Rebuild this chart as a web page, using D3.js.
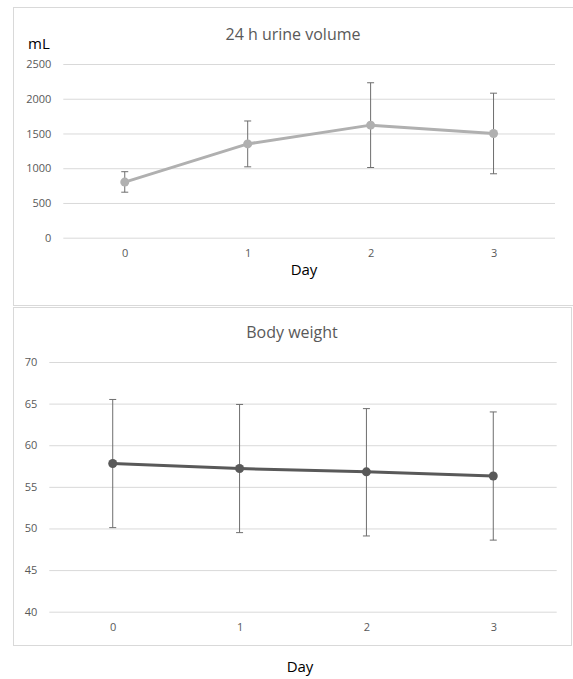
<!DOCTYPE html>
<html><head><meta charset="utf-8">
<script src="https://cdn.jsdelivr.net/npm/d3@7"></script>
<style>body{margin:0;background:#fff}svg{display:block;font-family:"Open Sans",sans-serif}</style>
</head><body>
<svg id="c" width="573" height="679"></svg>
<script>
const days = ["0","1","2","3"];
const urineMean = [800, 1350, 1620, 1500];
const urineUpper = [950, 1680, 2230, 2080];
const urineLower = [655, 1020, 1010, 920];
const urineTicks = [0, 500, 1000, 1500, 2000, 2500];
const weightMean = [57.8, 57.2, 56.8, 56.3];
const weightUpper = [65.5, 64.9, 64.4, 64.0];
const weightLower = [50.1, 49.5, 49.1, 48.6];
const weightTicks = [40, 45, 50, 55, 60, 65, 70];

const svg = d3.select("#c");

function panel(opt){
  const g = svg.append("g");
  g.append("rect").attr("x",opt.box[0]+0.5).attr("y",opt.box[1]+0.5)
    .attr("width",opt.box[2]).attr("height",opt.box[3])
    .attr("fill","#fff").attr("stroke","#d9d9d9").attr("stroke-width",1);
  const x = d3.scalePoint().domain(days).range([opt.x0,opt.x1]).padding(0.5);
  const y = d3.scaleLinear().domain(opt.domain).range([opt.y0,opt.y1]);
  const ya = d3.axisLeft(y).tickValues(opt.ticks).tickFormat(d3.format("d"))
    .tickSize(-(opt.x1-opt.x0)).tickPadding(12);
  const yg = g.append("g").attr("transform",`translate(${opt.x0},0)`).call(ya);
  yg.select(".domain").remove();
  yg.selectAll(".tick line").attr("stroke","#d9d9d9").attr("stroke-width",1);
  yg.selectAll(".tick text").attr("fill","#595959").attr("font-size",11).attr("font-family","Open Sans");
  const xa = d3.axisBottom(x).tickSize(0).tickPadding(12);
  const xg = g.append("g").attr("transform",`translate(0,${opt.y0})`).call(xa);
  xg.select(".domain").remove();
  xg.selectAll(".tick text").attr("fill","#595959").attr("font-size",11).attr("font-family","Open Sans");
  const eb = g.append("g").attr("stroke",opt.errColor).attr("stroke-width",1);
  days.forEach((d,i)=>{
    const cx = x(d);
    eb.append("line").attr("x1",cx).attr("x2",cx).attr("y1",y(opt.upper[i])).attr("y2",y(opt.lower[i]));
    eb.append("line").attr("x1",cx-3.5).attr("x2",cx+3.5).attr("y1",y(opt.upper[i])).attr("y2",y(opt.upper[i]));
    eb.append("line").attr("x1",cx-3.5).attr("x2",cx+3.5).attr("y1",y(opt.lower[i])).attr("y2",y(opt.lower[i]));
  });
  const line = d3.line().x((v,i)=>x(days[i])).y(v=>y(v));
  g.append("path").datum(opt.mean).attr("d",line).attr("fill","none")
    .attr("stroke",opt.color).attr("stroke-width",3).attr("stroke-linejoin","round");
  g.selectAll(null).data(opt.mean).enter().append("circle")
    .attr("cx",(v,i)=>x(days[i])).attr("cy",v=>y(v)).attr("r",4.5).attr("fill",opt.color);
  g.append("text").attr("x",opt.titleX).attr("y",opt.titleY).attr("text-anchor","middle")
    .attr("fill","#595959").attr("font-size",16).text(opt.title);
  return g;
}

const topPanel = panel({box:[13,7,570,298], x0:63.3, x1:555, y0:237.7, y1:64, domain:[0,2500],
  ticks:urineTicks, mean:urineMean, upper:urineUpper, lower:urineLower,
  color:"#b0b0b0", errColor:"#6e6e6e", title:"24 h urine volume", titleX:293, titleY:40});
topPanel.append("text").attr("x",28).attr("y",49).attr("font-size",15).attr("fill","#000").text("mL");
topPanel.append("text").attr("x",304).attr("y",275).attr("text-anchor","middle").attr("font-size",15).attr("fill","#000").text("Day");

const botPanel = panel({box:[13,307,558,338], x0:49.3, x1:556.7, y0:611.7, y1:362, domain:[40,70],
  ticks:weightTicks, mean:weightMean, upper:weightUpper, lower:weightLower,
  color:"#595959", errColor:"#6e6e6e", title:"Body weight", titleX:292, titleY:338});
botPanel.append("text").attr("x",300).attr("y",672).attr("text-anchor","middle").attr("font-size",15).attr("fill","#000").text("Day");
</script>
</body></html>
